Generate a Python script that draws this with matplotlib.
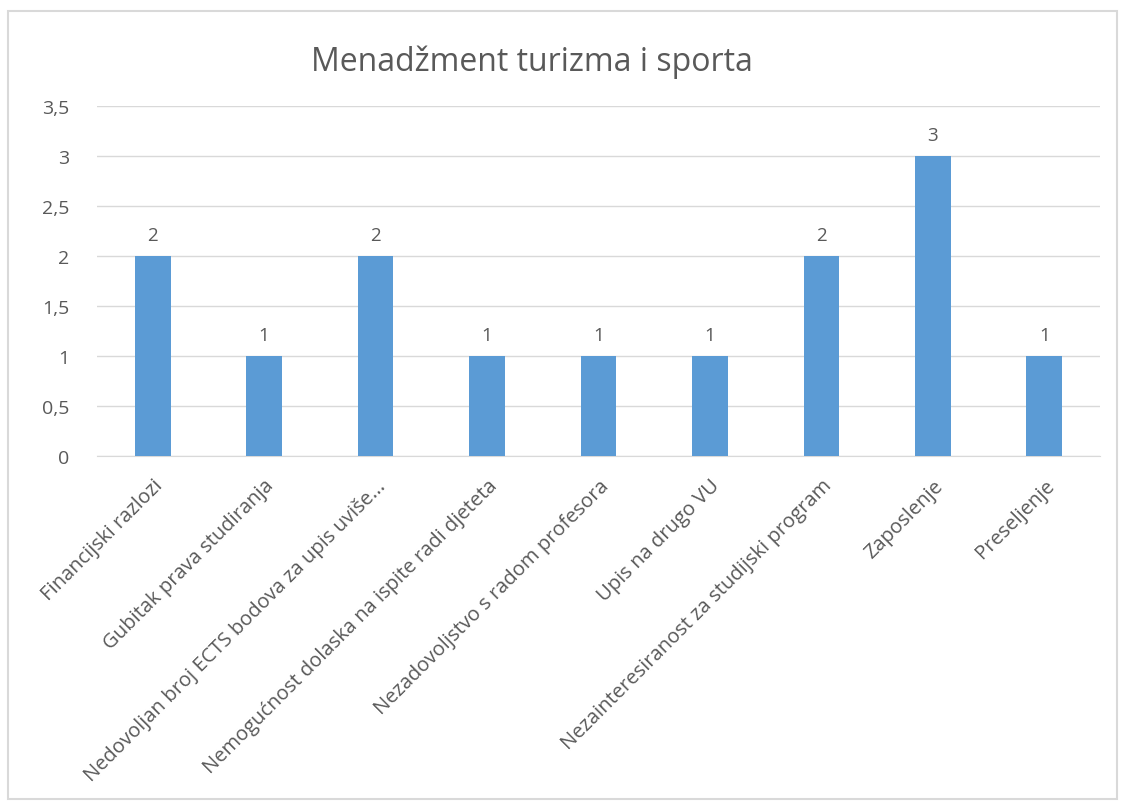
import matplotlib.pyplot as plt
from matplotlib.patches import Rectangle
from matplotlib.ticker import FuncFormatter

categories = [
    "Financijski razlozi",
    "Gubitak prava studiranja",
    "Nedovoljan broj ECTS bodova za upis uviše...",
    "Nemogućnost dolaska na ispite radi djeteta",
    "Nezadovoljstvo s radom profesora",
    "Upis na drugo VU",
    "Nezainteresiranost za studijski program",
    "Zaposlenje",
    "Preseljenje",
]
values = [2, 1, 2, 1, 1, 1, 2, 3, 1]
title = "Menadžment turizma i sporta"

plt.rcParams["font.family"] = ["Open Sans", "DejaVu Sans"]
text_color = "#595959"

fig = plt.figure(figsize=(11.21, 8.04), dpi=100)
ax = fig.add_axes([97 / 1121, 1 - 457 / 804, (1100 - 97) / 1121, 350 / 804])

x = range(len(categories))
bars = ax.bar(x, values, width=0.32, color="#5B9BD5", zorder=3)
for b, v in zip(bars, values):
    ax.text(b.get_x() + b.get_width() / 2, v + 0.12, str(v),
            ha="center", va="bottom", fontsize=13.5, color=text_color)

ax.set_xlim(-0.5, len(categories) - 0.5)
ax.set_ylim(0, 3.5)
ax.set_yticks([0, 0.5, 1, 1.5, 2, 2.5, 3, 3.5])
ax.yaxis.set_major_formatter(FuncFormatter(lambda v, p: f"{v:g}".replace(".", ",")))
ax.grid(axis="y", color="#D9D9D9", linewidth=1, zorder=0)
for s in ["top", "right", "left"]:
    ax.spines[s].set_visible(False)
ax.spines["bottom"].set_color("#D9D9D9")
ax.tick_params(axis="y", length=0, labelsize=14, colors=text_color, pad=20)
ax.tick_params(axis="x", length=0, labelsize=14.5, colors=text_color, pad=14)
ax.set_xticks(list(x))
ax.set_xticklabels(categories, rotation=45, ha="right", rotation_mode="anchor")

fig.text(532 / 1121, 1 - 62 / 804, title, ha="center", va="center",
         fontsize=23, color=text_color)

fig.patches.append(Rectangle((8 / 1121, 4 / 804), 1109 / 1121, 788 / 804,
                             transform=fig.transFigure, fill=False,
                             edgecolor="#D9D9D9", linewidth=1.5))

fig.savefig("out.png", dpi=100, facecolor="white")
